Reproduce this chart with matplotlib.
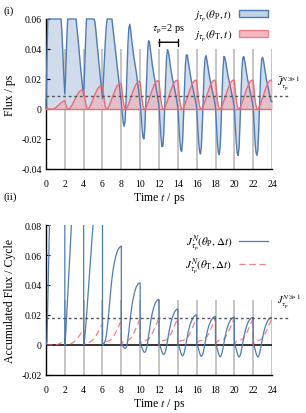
import numpy as np
import matplotlib.pyplot as plt
from matplotlib.patches import Patch
from matplotlib.lines import Line2D

plt.rcParams['font.family'] = ['Liberation Serif', 'DejaVu Serif']
plt.rcParams['mathtext.fontset'] = 'stix'

# period of the pulse train (ps) and sample offsets inside one period
tau_p = 2.0
n_cycles = 12
s = np.round(np.arange(21) * 0.1, 1)

# (i) instantaneous flux, one row per period, values at s = 0.0 ... 2.0 ps
j_P = [
    [0.0, 0.035, 0.06, 0.06, 0.06, 0.06, 0.06, 0.06, 0.06, 0.06, 0.06, 0.06, 0.06, 0.06, 0.06, 0.06, 0.06, 0.05, 0.036, 0.021, 0.01],
    [0.01, 0.025, 0.045, 0.06, 0.06, 0.06, 0.06, 0.06, 0.06, 0.06, 0.06, 0.06, 0.06, 0.053, 0.047, 0.04, 0.033, 0.026, 0.02, 0.013, 0.009],
    [0.009, 0.025, 0.045, 0.06, 0.06, 0.06, 0.06, 0.06, 0.06, 0.06, 0.06, 0.06, 0.058, 0.052, 0.045, 0.039, 0.032, 0.026, 0.019, 0.013, 0.007],
    [0.007, 0.02, 0.033, 0.045, 0.055, 0.06, 0.06, 0.06, 0.06, 0.06, 0.06, 0.0545, 0.049, 0.043, 0.038, 0.032, 0.026, 0.021, 0.015, 0.0095, 0.004],
    [0.004, -0.003, -0.009, -0.0115, -0.008, 0.005, 0.025, 0.043, 0.054, 0.0565, 0.052, 0.046, 0.041, 0.036, 0.032, 0.028, 0.024, 0.019, 0.014, 0.009, 0.004],
    [0.004, -0.004, -0.013, -0.019, -0.020, -0.012, 0.005, 0.024, 0.039, 0.0455, 0.044, 0.039, 0.034, 0.029, 0.025, 0.021, 0.018, 0.014, 0.010, 0.006, 0.002],
    [0.002, -0.008, -0.018, -0.025, -0.025, -0.017, 0.0, 0.02, 0.034, 0.0395, 0.038, 0.034, 0.029, 0.025, 0.021, 0.018, 0.015, 0.012, 0.009, 0.005, 0.001],
    [0.001, -0.01, -0.02, -0.027, -0.0284, -0.022, -0.006, 0.013, 0.029, 0.036, 0.036, 0.032, 0.028, 0.024, 0.020, 0.017, 0.014, 0.011, 0.008, 0.005, 0.001],
    [0.001, -0.011, -0.021, -0.028, -0.030, -0.025, -0.010, 0.009, 0.026, 0.034, 0.0355, 0.032, 0.028, 0.024, 0.020, 0.017, 0.014, 0.011, 0.008, 0.005, 0.001],
    [0.001, -0.011, -0.022, -0.029, -0.0304, -0.025, -0.009, 0.011, 0.027, 0.035, 0.034, 0.031, 0.027, 0.023, 0.020, 0.017, 0.014, 0.011, 0.008, 0.005, 0.001],
    [0.001, -0.011, -0.022, -0.029, -0.031, -0.026, -0.010, 0.009, 0.026, 0.034, 0.035, 0.032, 0.028, 0.024, 0.020, 0.017, 0.014, 0.011, 0.008, 0.005, 0.001],
    [0.001, -0.011, -0.022, -0.029, -0.031, -0.027, -0.012, 0.007, 0.024, 0.033, 0.0345, 0.032, 0.028, 0.024, 0.020, 0.017, 0.014, 0.011, 0.008, 0.005, 0.005],
]
j_T = [
    [0, 0, 0, 0, 0, 0, 0, 0, 0, 0.0003, 0.0007, 0.0012, 0.0018, 0.0024, 0.003, 0.0036, 0.0041, 0.0046, 0.005, 0.0054, 0.0055],
    [0.0055, 0.003, 0.001, 0.0002, 0, 0.0003, 0.001, 0.002, 0.003, 0.0042, 0.0055, 0.0068, 0.008, 0.0092, 0.0103, 0.0112, 0.0119, 0.0124, 0.0127, 0.0126, 0.012],
    [0.012, 0.008, 0.004, 0.0012, 0.0001, 0, 0.0008, 0.002, 0.0034, 0.005, 0.0066, 0.0082, 0.0097, 0.0111, 0.0124, 0.0135, 0.0144, 0.0151, 0.0155, 0.0156, 0.015],
    [0.015, 0.010, 0.005, 0.0016, 0.0002, 0, 0.0008, 0.0021, 0.0036, 0.0053, 0.0071, 0.0088, 0.0105, 0.012, 0.0134, 0.0147, 0.0158, 0.0166, 0.017, 0.0171, 0.0165],
    [0.0165, 0.011, 0.0055, 0.0018, 0.0002, 0, 0.0008, 0.0021, 0.0037, 0.0055, 0.0074, 0.0093, 0.0111, 0.0128, 0.0143, 0.0157, 0.0168, 0.0177, 0.0183, 0.0184, 0.0178],
    [0.0178, 0.012, 0.006, 0.002, 0.0002, 0, 0.0008, 0.0021, 0.0037, 0.0056, 0.0075, 0.0094, 0.0113, 0.0131, 0.0147, 0.0161, 0.0173, 0.0181, 0.0187, 0.0189, 0.0184],
    [0.0184, 0.012, 0.006, 0.002, 0.0002, 0, 0.0008, 0.0021, 0.0037, 0.0056, 0.0075, 0.0094, 0.0113, 0.0131, 0.0147, 0.0162, 0.0174, 0.0183, 0.0189, 0.0191, 0.0186],
    [0.0186, 0.012, 0.006, 0.002, 0.0002, 0, 0.0008, 0.0021, 0.0037, 0.0056, 0.0075, 0.0094, 0.0113, 0.0131, 0.0148, 0.0163, 0.0175, 0.0184, 0.019, 0.0192, 0.0187],
    [0.0187, 0.012, 0.006, 0.002, 0.0002, 0, 0.0008, 0.0021, 0.0037, 0.0056, 0.0075, 0.0094, 0.0113, 0.0131, 0.0148, 0.0163, 0.0175, 0.0184, 0.019, 0.0193, 0.0188],
    [0.0188, 0.012, 0.006, 0.002, 0.0002, 0, 0.0008, 0.0021, 0.0037, 0.0056, 0.0075, 0.0094, 0.0113, 0.0131, 0.0148, 0.0163, 0.0175, 0.0184, 0.019, 0.0193, 0.0188],
    [0.0188, 0.012, 0.006, 0.002, 0.0002, 0, 0.0008, 0.0021, 0.0037, 0.0056, 0.0075, 0.0094, 0.0113, 0.0131, 0.0148, 0.0163, 0.0175, 0.0184, 0.019, 0.0193, 0.0188],
    [0.0188, 0.012, 0.006, 0.002, 0.0002, 0, 0.0008, 0.0021, 0.0037, 0.0056, 0.0075, 0.0094, 0.0113, 0.0131, 0.0148, 0.0163, 0.0175, 0.0184, 0.019, 0.0193, 0.0188],
]

# (ii) accumulated flux within each period (reset at every period start)
J_P = [
    [0, 0.002, 0.03, 0.06, 0.09, 0.12, 0.12, 0.12, 0.12, 0.12, 0.12, 0.12, 0.12, 0.12, 0.12, 0.12, 0.12, 0.12, 0.12, 0.12, 0.12],
    [0, 0.008, 0.02, 0.032, 0.045, 0.057, 0.069, 0.08, 0.092, 0.1, 0.12, 0.12, 0.12, 0.12, 0.12, 0.12, 0.12, 0.12, 0.12, 0.12, 0.12],
    [0, 0.004, 0.011, 0.019, 0.028, 0.037, 0.046, 0.055, 0.064, 0.072, 0.08, 0.088, 0.095, 0.1, 0.1, 0.1, 0.1, 0.1, 0.1, 0.1, 0.1],
    [0, 0.0005, 0.0015, 0.003, 0.006, 0.011, 0.017, 0.024, 0.031, 0.038, 0.044, 0.049, 0.053, 0.056, 0.059, 0.061, 0.063, 0.064, 0.065, 0.0655, 0.066],
    [0, 0.0, -0.001, -0.002, -0.0022, -0.002, 0.0, 0.004, 0.009, 0.015, 0.02, 0.025, 0.029, 0.032, 0.035, 0.037, 0.039, 0.040, 0.041, 0.0413, 0.0413],
    [0, -0.0005, -0.0018, -0.0035, -0.0047, -0.0049, -0.004, -0.0015, 0.002, 0.0065, 0.011, 0.015, 0.0185, 0.0215, 0.024, 0.026, 0.0277, 0.029, 0.0298, 0.0302, 0.0303],
    [0, -0.0006, -0.0022, -0.0042, -0.0058, -0.0064, -0.0058, -0.004, -0.001, 0.0025, 0.0065, 0.010, 0.013, 0.0157, 0.018, 0.0198, 0.0213, 0.0225, 0.0233, 0.0238, 0.024],
    [0, -0.0007, -0.0025, -0.0048, -0.0066, -0.0073, -0.0066, -0.0045, -0.0015, 0.002, 0.0055, 0.0087, 0.0113, 0.0135, 0.0152, 0.0166, 0.0178, 0.0188, 0.0195, 0.0199, 0.0201],
    [0, -0.0008, -0.0027, -0.005, -0.0069, -0.0076, -0.0069, -0.0048, -0.0018, 0.0017, 0.005, 0.0081, 0.0107, 0.0128, 0.0145, 0.0159, 0.017, 0.0179, 0.0185, 0.0189, 0.019],
    [0, -0.0008, -0.0028, -0.0052, -0.0072, -0.0079, -0.0072, -0.005, -0.002, 0.0015, 0.0048, 0.0078, 0.0104, 0.0125, 0.0142, 0.0156, 0.0167, 0.0175, 0.018, 0.0183, 0.0184],
    [0, -0.0008, -0.0028, -0.0052, -0.0072, -0.008, -0.0073, -0.0051, -0.002, 0.0015, 0.0048, 0.0078, 0.0104, 0.0125, 0.0142, 0.0156, 0.0167, 0.0175, 0.018, 0.0183, 0.0184],
    [0, -0.0008, -0.0028, -0.0052, -0.0072, -0.008, -0.0073, -0.0051, -0.002, 0.0015, 0.0048, 0.0078, 0.0104, 0.0125, 0.0142, 0.0156, 0.0167, 0.0175, 0.018, 0.0183, 0.0184],
]
J_T = [
    [0, 0, 0, 0, 0, 0, 0, 0, 0, 0.0, 0.0001, 0.0002, 0.0003, 0.0005, 0.0008, 0.0011, 0.0014, 0.0018, 0.0022, 0.0026, 0.003],
    [0, 0.0004, 0.0006, 0.0007, 0.0007, 0.0007, 0.0008, 0.001, 0.0013, 0.0017, 0.0022, 0.0028, 0.0035, 0.0043, 0.0051, 0.006, 0.0068, 0.0076, 0.0084, 0.0091, 0.0096],
    [0, 0.001, 0.0016, 0.0018, 0.0018, 0.0018, 0.0019, 0.0021, 0.0024, 0.0029, 0.0035, 0.0042, 0.0051, 0.006, 0.0071, 0.0082, 0.0094, 0.0106, 0.0118, 0.013, 0.014],
    [0, 0.0013, 0.0021, 0.0024, 0.0025, 0.0025, 0.0026, 0.0028, 0.0031, 0.0036, 0.0042, 0.005, 0.006, 0.0071, 0.0083, 0.0096, 0.011, 0.0124, 0.0138, 0.0152, 0.0165],
    [0, 0.0014, 0.0023, 0.0027, 0.0028, 0.0028, 0.0029, 0.0031, 0.0034, 0.0039, 0.0046, 0.0054, 0.0064, 0.0076, 0.0089, 0.0103, 0.0118, 0.0133, 0.0148, 0.0163, 0.0176],
    [0, 0.0015, 0.0024, 0.0029, 0.003, 0.003, 0.0031, 0.0033, 0.0036, 0.0041, 0.0048, 0.0057, 0.0067, 0.0079, 0.0092, 0.0106, 0.0121, 0.0136, 0.0152, 0.0167, 0.018],
    [0, 0.0015, 0.0024, 0.0029, 0.003, 0.003, 0.0031, 0.0033, 0.0036, 0.0041, 0.0048, 0.0057, 0.0067, 0.0079, 0.0092, 0.0106, 0.0121, 0.0136, 0.0152, 0.0167, 0.018],
    [0, 0.0015, 0.0024, 0.0029, 0.003, 0.003, 0.0031, 0.0033, 0.0036, 0.0041, 0.0048, 0.0057, 0.0067, 0.0079, 0.0092, 0.0106, 0.0121, 0.0136, 0.0152, 0.0167, 0.018],
    [0, 0.0015, 0.0024, 0.0029, 0.003, 0.003, 0.0031, 0.0033, 0.0036, 0.0041, 0.0048, 0.0057, 0.0067, 0.0079, 0.0092, 0.0106, 0.0121, 0.0136, 0.0152, 0.0167, 0.018],
    [0, 0.0015, 0.0024, 0.0029, 0.003, 0.003, 0.0031, 0.0033, 0.0036, 0.0041, 0.0048, 0.0057, 0.0067, 0.0079, 0.0092, 0.0106, 0.0121, 0.0136, 0.0152, 0.0167, 0.018],
    [0, 0.0015, 0.0024, 0.0029, 0.003, 0.003, 0.0031, 0.0033, 0.0036, 0.0041, 0.0048, 0.0057, 0.0067, 0.0079, 0.0092, 0.0106, 0.0121, 0.0136, 0.0152, 0.0167, 0.018],
    [0, 0.0015, 0.0024, 0.0029, 0.003, 0.003, 0.0031, 0.0033, 0.0036, 0.0041, 0.0048, 0.0057, 0.0067, 0.0079, 0.0092, 0.0106, 0.0121, 0.0136, 0.0152, 0.0167, 0.018],
]

# long-time averages (dashed lines)
Jbar_inf = 0.0089
J_inf = 0.0178

xticks = np.arange(0, 25, 2)

# time axis, one block per period
t = np.concatenate([k * tau_p + s for k in range(n_cycles)])
jP = np.concatenate(j_P)
jT = np.concatenate(j_T)
JP = np.concatenate(J_P)
JT = np.concatenate(J_T)

blue = '#4f7bb3'
blue_fill = '#c5d3e6'
red = '#ec6a73'
red_fill = '#f2a9ae'
grey = '#c4c4c4'

fig = plt.figure(figsize=(3.06, 4.14), dpi=100)
ax1 = fig.add_axes([0.1503, 0.5894, 0.7386, 0.3623])
ax2 = fig.add_axes([0.1503, 0.0918, 0.7386, 0.3623])

# ---- (i) ----
ax1.vlines(xticks[1:], -0.04, 0.04, color=grey, lw=1.4, zorder=0)
ax1.fill_between(t, 0, jP, color=blue_fill, alpha=0.8, lw=0, zorder=1)
ax1.fill_between(t, 0, jT, color=red_fill, alpha=0.55, lw=0, zorder=2)
ax1.plot(t, jP, color=blue, lw=1.0, zorder=3, clip_on=False)
ax1.plot(t, jT, color=red, lw=1.0, zorder=4)
ax1.plot([0, 24], [0, 0], color=red, lw=1.0, zorder=4)
ax1.plot([0, 25.9], [Jbar_inf, Jbar_inf], ls=(0, (2, 2)), color='#555555', lw=1.0,
         zorder=5, clip_on=False)
ax1.set_xlim(0, 24)
ax1.set_ylim(-0.04, 0.06)
ax1.set_yticks([-0.04, -0.02, 0, 0.02, 0.04, 0.06])
ax1.set_yticklabels(['-0.04', '-0.02', '0', '0.02', '0.04', '0.06'])
ax1.set_xticks(xticks)
ax1.set_xlabel(r'Time $t$ / ps', fontsize=8.5, labelpad=2)
ax1.set_ylabel('Flux / ps', fontsize=8.5, labelpad=4)
ax1.text(24.55, 0.0115, r'$\bar{J}^{N\gg1}_{\tau_{\rm p}}$', fontsize=7.5,
         ha='left', va='bottom', clip_on=False)

# tau_p bar
ax1.annotate('', xy=(12, 0.0445), xytext=(14, 0.0445),
             arrowprops=dict(arrowstyle='|-|', lw=1.0, color='black',
                             mutation_scale=2.5, shrinkA=0, shrinkB=0))
ax1.text(13, 0.049, r'$\tau_{\rm p}$=2 ps', fontsize=7.5, ha='center', va='bottom')

h1 = [Patch(facecolor=blue_fill, edgecolor=blue, lw=1.0),
      Patch(facecolor=red_fill, edgecolor=red, lw=1.0, alpha=0.8)]
ax1.legend(h1, [r'$j_{\tau_{\rm p}}(\theta_{\rm P},t)$', r'$j_{\tau_{\rm p}}(\theta_{\rm T},t)$'],
           loc='upper right', bbox_to_anchor=(1.0, 1.105), frameon=False,
           markerfirst=False, fontsize=8, handlelength=2.6, handleheight=0.6,
           handletextpad=0.6, labelspacing=0.35, borderaxespad=0)

# ---- (ii) ----
ax2.vlines(xticks[1:], -0.02, 0.03, color=grey, lw=1.4, zorder=0)
ax2.plot([0, 24], [0, 0], color='black', lw=1.1, zorder=1)
ax2.plot(t, JP, color=blue, lw=0.9, zorder=3)
ax2.plot(t, JT, color=red, lw=0.9, ls=(0, (5, 3)), alpha=0.85, zorder=2)
ax2.plot([0, 25.9], [J_inf, J_inf], ls=(0, (2, 2)), color='#555555', lw=1.0,
         zorder=5, clip_on=False)
ax2.set_xlim(0, 24)
ax2.set_ylim(-0.02, 0.08)
ax2.set_yticks([-0.02, 0, 0.02, 0.04, 0.06, 0.08])
ax2.set_yticklabels(['-0.02', '0', '0.02', '0.04', '0.06', '0.08'])
ax2.set_xticks(xticks)
ax2.set_xlabel(r'Time $t$ / ps', fontsize=8.5, labelpad=2)
ax2.set_ylabel('Accumulated Flux / Cycle', fontsize=8.5, labelpad=4)
ax2.text(24.55, 0.0235, r'$J^{N\gg1}_{\tau_{\rm p}}$', fontsize=7.5,
         ha='left', va='bottom', clip_on=False)

h2 = [Line2D([], [], color=blue, lw=0.9),
      Line2D([], [], color=red, lw=0.9, ls=(0, (5, 3)), alpha=0.85)]
ax2.legend(h2, [r'$J^{N}_{\tau_{\rm p}}(\theta_{\rm P},\Delta t)$',
                r'$J^{N}_{\tau_{\rm p}}(\theta_{\rm T},\Delta t)$'],
           loc='upper right', bbox_to_anchor=(1.0, 0.98), frameon=False,
           markerfirst=False, fontsize=8, handlelength=2.6,
           handletextpad=0.6, labelspacing=0.3, borderaxespad=0)

for ax in (ax1, ax2):
    ax.spines['top'].set_visible(False)
    ax.spines['right'].set_visible(False)
    ax.tick_params(direction='in', length=3, width=0.8, labelsize=7, pad=3)
    ax.tick_params(axis='x', length=0, pad=7)
    for sp in ('left', 'bottom'):
        ax.spines[sp].set_linewidth(1.0)

fig.text(0.01, 0.985, '(i)', fontsize=8, va='top')
fig.text(0.01, 0.535, '(ii)', fontsize=8, va='top')

fig.savefig('out.png', dpi=100)
